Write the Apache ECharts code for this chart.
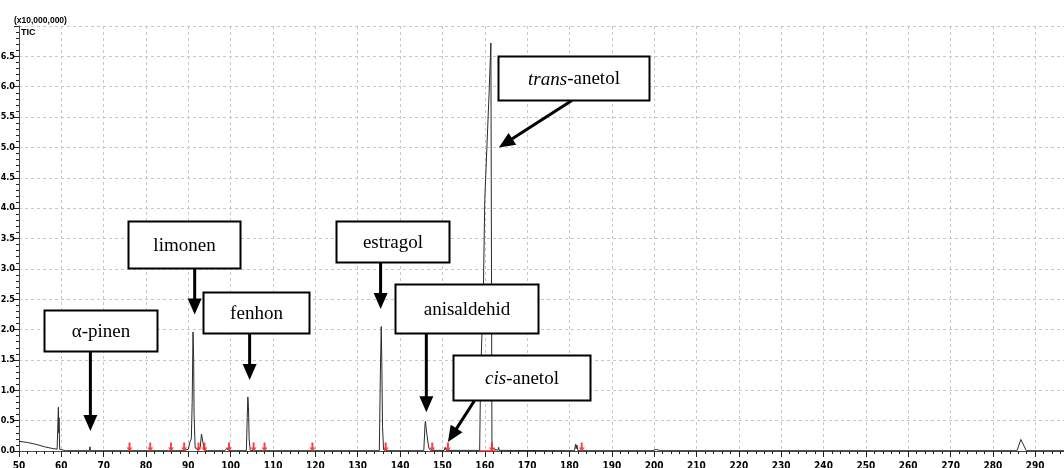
<!DOCTYPE html>
<html>
<head>
<meta charset="utf-8">
<script src="https://cdn.jsdelivr.net/npm/echarts@6/dist/echarts.min.js"></script>
<style>
  html, body { margin: 0; padding: 0; background: #fff; }
  #chart { width: 1064px; height: 468px; }
</style>
</head>
<body>
<div id="chart"></div>
<script>
// Retention time (min) and TIC intensity (x10,000,000) of the chromatogram trace
const time = [
  50.0, 52.0, 54.0, 56.0, 58.0, 59.0, 59.15, 59.3, 59.4, 59.45, 59.6, 60.0, 61.0,
  66.6, 66.75, 66.9, 75.8, 76.1, 76.4, 80.8, 81.1, 81.4, 85.3, 85.5, 85.7,
  88.5, 88.8, 89.2, 90.0, 90.4, 90.7, 90.9, 91.1, 91.25, 91.35, 91.6, 92.2,
  92.8, 93.1, 93.3, 93.5, 93.8, 94.5, 98.6, 99.0, 99.4, 99.8,
  103.7, 103.9, 104.05, 104.2, 104.35, 104.6, 105.5, 107.8, 108.0, 108.3,
  119.0, 119.2, 119.5, 135.1, 135.35, 135.55, 135.7, 135.85, 136.1, 136.6,
  145.6, 145.9, 146.0, 146.2, 146.5, 146.8, 147.2, 150.4, 150.65, 150.9,
  158.8, 159.0, 159.7, 160.0, 160.5, 161.0, 161.45, 161.6, 161.7, 162.0,
  163.1, 163.3, 163.4, 181.2, 181.45, 181.6, 181.75, 182.0,
  199.5, 200.5, 201.5, 215.0, 215.2, 215.4, 219.8, 220.0, 220.5,
  242.8, 243.1, 243.5, 251.8, 252.0, 252.2, 285.7, 286.6, 287.0, 287.9, 296.8
];
const tic = [
  0.16, 0.14, 0.11, 0.07, 0.04, 0.03, 0.36, 0.72, 0.30, 0.55, 0.03, 0.01, 0.005,
  0.005, 0.07, 0.005, 0.005, 0.02, 0.005, 0.005, 0.02, 0.005, 0.005, 0.03, 0.005,
  0.005, 0.03, 0.01, 0.03, 0.16, 0.20, 0.80, 1.96, 1.50, 0.60, 0.05, 0.02,
  0.06, 0.28, 0.20, 0.12, 0.02, 0.005, 0.005, 0.04, 0.02, 0.005,
  0.005, 0.55, 0.89, 0.72, 0.20, 0.01, 0.005, 0.005, 0.015, 0.005,
  0.005, 0.02, 0.005, 0.005, 1.30, 2.05, 1.40, 0.40, 0.02, 0.005,
  0.005, 0.45, 0.49, 0.35, 0.18, 0.05, 0.01, 0.01, 0.06, 0.01,
  0.01, 1.17, 2.76, 4.13, 5.00, 5.85, 6.72, 6.70, 0.05, 0.02,
  0.01, 0.06, 0.01, 0.005, 0.11, 0.04, 0.10, 0.005,
  0.005, 0.025, 0.005, 0.005, 0.02, 0.005, 0.005, 0.02, 0.005,
  0.005, 0.03, 0.005, 0.005, 0.02, 0.005, 0.005, 0.19, 0.16, 0.005, 0.005
];

// Integration peak markers (retention times)
const peakMarks = [76.1, 81.0, 85.9, 89.0, 92.4, 93.8, 99.6, 105.4, 108.0, 119.3, 136.6, 147.6, 151.3, 161.7, 182.9];

// Axis ranges and tick step
const xMin = 50, xMax = 296.8, xStep = 10;
const yMin = 0, yMax = 7.0, yStep = 0.5;

// Compound names
const compounds = ['α-pinen', 'limonen', 'fenhon', 'estragol', 'anisaldehid', 'cis-anetol', 'trans-anetol'];

const chart = echarts.init(document.getElementById('chart'), null, { renderer: 'canvas' });

const tickFont = "'DejaVu Sans Condensed', 'DejaVu Sans', sans-serif";
const smallFont = "'Liberation Sans', Arial, sans-serif";
const gridLine = { show: true, lineStyle: { color: '#c8c8c8', type: [3, 3], width: 1 } };

const traceData = time.map((t, i) => [t, tic[i]]);
const markData = peakMarks.map(t => [t, 0]);

chart.setOption({
  animation: false,
  backgroundColor: '#ffffff',
  grid: { left: 19, right: 0, top: 26, bottom: 17, containLabel: false, outerBoundsMode: 'none' },
  title: {
    text: 'TIC', left: 21, top: 28, padding: 0,
    textStyle: { fontFamily: smallFont, fontWeight: 'bold', fontSize: 9, color: '#000' }
  },
  xAxis: [{
    type: 'value', min: xMin, max: xMax, interval: xStep,
    axisLine: { show: true, onZero: false, lineStyle: { color: '#4a4a4a', width: 1 } },
    axisTick: { show: true, length: 6, lineStyle: { color: '#222' } },
    minorTick: { show: true, splitNumber: 5, length: 3, lineStyle: { color: '#222' } },
    splitLine: gridLine,
    axisLabel: {
      margin: 10, color: '#000', fontFamily: tickFont, fontWeight: 'bold', fontSize: 10,
      formatter: v => (Math.abs(v % xStep) < 1e-6 ? String(Math.round(v)) : '')
    }
  }, {
    // top frame line
    type: 'value', position: 'top', min: xMin, max: xMax, interval: xStep,
    axisLine: { show: true, lineStyle: { color: '#4a4a4a', width: 1 } },
    axisTick: { show: false }, axisLabel: { show: false }, splitLine: { show: false }
  }],
  yAxis: {
    type: 'value', min: yMin, max: yMax, interval: yStep,
    name: '(x10,000,000)', nameLocation: 'end', nameGap: 1,
    nameTextStyle: {
      align: 'left', verticalAlign: 'bottom', padding: [0, 0, 0, -5],
      fontFamily: smallFont, fontWeight: 'bold', fontSize: 8.5, color: '#000'
    },
    axisLine: { show: true, lineStyle: { color: '#4a4a4a', width: 1 } },
    axisTick: { show: true, length: 5, lineStyle: { color: '#222' } },
    minorTick: { show: true, splitNumber: 5, length: 3, lineStyle: { color: '#222' } },
    splitLine: gridLine,
    axisLabel: {
      margin: 4, showMaxLabel: false, color: '#000', fontFamily: tickFont, fontWeight: 'bold', fontSize: 9,
      formatter: v => v.toFixed(1)
    }
  },
  series: [{
    name: 'TIC', type: 'line', data: traceData, showSymbol: false, symbol: 'none',
    lineStyle: { color: '#2a2a2a', width: 1 }, z: 3, clip: true
  }, {
    name: 'baseline', type: 'line', data: [[158.8, 0], [162.6, 0]], symbol: 'none',
    lineStyle: { color: '#ff1a1a', width: 1.5 }, z: 4
  }, {
    name: 'peaks', type: 'scatter', data: markData,
    symbol: 'path://M2,0 H4 V5 H6 L3,9 L0,5 H2 Z', symbolSize: [6, 9], symbolOffset: [0, -4],
    itemStyle: { color: '#ff2020', opacity: 0.85 }, z: 5, silent: true
  }]
});

// Labelled arrows for the identified compounds.
// box: centre of the label box in (time, intensity); tail: time where the arrow leaves the box bottom;
// tip: (time, intensity) where the arrow head points.
const annotations = [
  { name: compounds[0], box: [69.17, 1.98], w: 113, h: 41, tail: 66.86, tip: [66.86, 0.33] },
  { name: compounds[1], box: [88.89, 3.40], w: 112, h: 47, tail: 91.49, tip: [91.49, 2.25] },
  { name: compounds[2], box: [105.89, 2.28], w: 106, h: 41, tail: 104.47, tip: [104.47, 1.17] },
  { name: compounds[3], box: [138.12, 3.45], w: 113, h: 41, tail: 135.40, tip: [135.40, 2.34] },
  { name: compounds[4], box: [155.60, 2.34], w: 143, h: 49, tail: 146.20, tip: [146.20, 0.64] },
  { name: compounds[5], box: [168.58, 1.21], w: 137, h: 45, tail: 157.60, tip: [151.30, 0.15], italic: 'cis' },
  { name: compounds[6], box: [180.86, 6.15], w: 151, h: 44, tail: 180.58, tip: [163.34, 5.00], italic: 'trans' }
];

function buildGraphics() {
  const els = [];
  const serif = "'Liberation Serif', 'Times New Roman', serif";
  annotations.forEach(a => {
    const c = chart.convertToPixel({ gridIndex: 0 }, a.box);
    const x0 = Math.round(c[0] - a.w / 2) + 0.5;
    const y0 = Math.round(c[1] - a.h / 2) + 0.5;
    const bottom = y0 + a.h;
    const tailX = chart.convertToPixel({ xAxisIndex: 0 }, a.tail);
    const tip = chart.convertToPixel({ gridIndex: 0 }, a.tip);

    // arrow
    const dx = tip[0] - tailX, dy = tip[1] - bottom;
    const len = Math.sqrt(dx * dx + dy * dy);
    const ux = dx / len, uy = dy / len;
    const headL = 16, headW = 7;
    const bx = tip[0] - ux * headL, by = tip[1] - uy * headL;
    els.push({
      type: 'line', z: 20,
      shape: { x1: tailX, y1: bottom, x2: bx + ux * 2, y2: by + uy * 2 },
      style: { stroke: '#000', lineWidth: 3 }
    });
    els.push({
      type: 'polygon', z: 20,
      shape: { points: [[tip[0], tip[1]], [bx - uy * headW, by + ux * headW], [bx + uy * headW, by - ux * headW]] },
      style: { fill: '#000' }
    });

    // box
    els.push({
      type: 'rect', z: 21,
      shape: { x: x0, y: y0, width: a.w, height: a.h },
      style: { fill: '#fff', stroke: '#000', lineWidth: 2 }
    });
    const txt = a.italic ? '{i|' + a.italic + '}' + a.name.slice(a.italic.length) : a.name;
    els.push({
      type: 'text', z: 22,
      x: x0 + a.w / 2, y: y0 + a.h / 2 + 1,
      style: {
        text: txt, fill: '#000', font: '19px ' + serif,
        fontFamily: serif, fontSize: 19,
        align: 'center', verticalAlign: 'middle',
        rich: { i: { fontStyle: 'italic', fontFamily: serif, fontSize: 19, fill: '#000' } }
      }
    });
  });
  chart.setOption({ graphic: { elements: els } });
}
buildGraphics();
</script>
</body>
</html>
